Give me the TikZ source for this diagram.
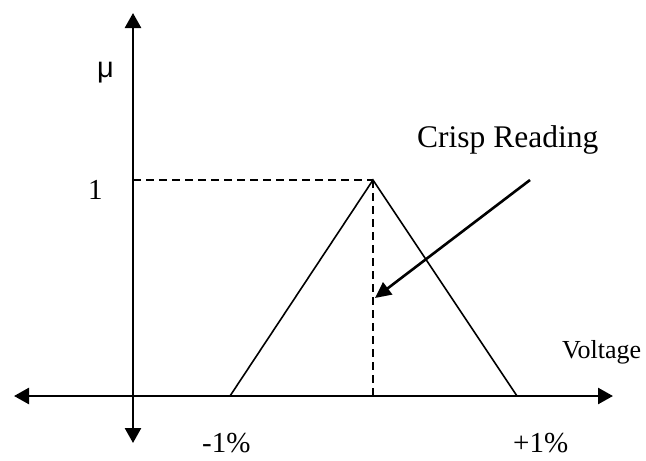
\documentclass[tikz,border=0pt]{standalone}
\usepackage{fontspec}
\setmainfont{Liberation Serif}
\newfontfamily\symfont{Liberation Sans}
\usetikzlibrary{arrows.meta}
\tikzset{
  axis/.style={line width=2.6pt, -{Triangle[length=15pt,width=16pt]}},
  curve/.style={line width=1.6pt},
  guide/.style={line width=1.6pt, dash pattern=on 8pt off 5pt},
  pointer/.style={line width=2.6pt, -{Triangle[length=16pt,width=15pt]}},
  lbl/.style={inner sep=0pt, anchor=base west, font=\fontsize{29}{34}\selectfont}
}
\begin{document}
\begin{tikzpicture}[x=1pt,y=-1pt]
\useasboundingbox (0,0) rectangle (646,461);
% coordinates
\coordinate (O) at (133,396);
\coordinate (xl) at (14,396);
\coordinate (xr) at (613,396);
\coordinate (yt) at (133,13);
\coordinate (yb) at (133,443);
\coordinate (L) at (230,396);
\coordinate (P) at (373,180);
\coordinate (R) at (517,396);
\coordinate (Py) at (133,180);
\coordinate (Px) at (373,396);
\coordinate (As) at (530,180);
\coordinate (Ae) at (375,298);
% axes
\draw[axis] (O) -- (xr);
\draw[axis] (O) -- (xl);
\draw[axis] (O) -- (yt);
\draw[axis] (O) -- (yb);
% triangle
\draw[curve] (L) -- (P) -- (R);
% guides
\draw[guide] (Py) -- (P);
\draw[guide] (P) -- (Px);
% pointer
\draw[pointer] (As) -- (Ae);
% labels
\node[lbl, font=\symfont\fontsize{29}{32}\selectfont] (mu) at (97,77) {μ};
\node[lbl] (one) at (88,199) {1};
\node[lbl, font=\fontsize{31.5}{36}\selectfont] (crisp) at (417,147) {Crisp Reading};
\node[lbl, font=\fontsize{26}{30}\selectfont] (volt) at (562,358) {Voltage};
\node[lbl] (m1) at (202,452) {-1\%};
\node[lbl] (p1) at (513,452) {+1\%};
\end{tikzpicture}
\end{document}
